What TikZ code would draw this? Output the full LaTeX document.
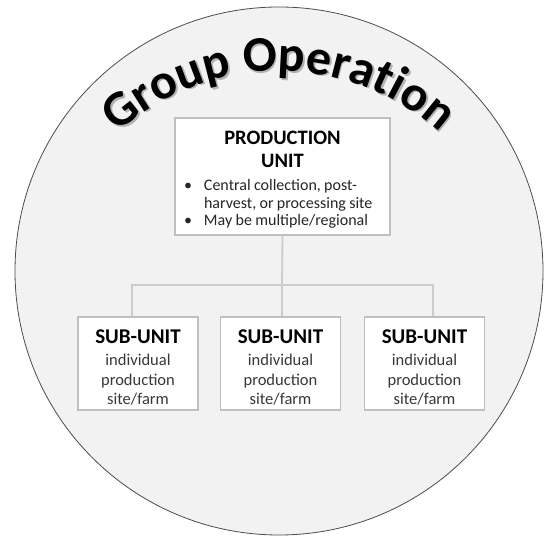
\documentclass[tikz,border=0pt]{standalone}
\usepackage{fontspec}
\setmainfont{Carlito}
\usetikzlibrary{positioning,decorations.text}

\newcommand{\prodtext}{%
	{\centering\fontsize{20.5}{23}\selectfont\bfseries\rule{0pt}{22pt}PRODUCTION\\UNIT\par}
	\vspace{10pt}
	{\fontsize{16}{17.5}\selectfont\color{black!85}%
	\begin{tabular}{@{}p{20pt}@{}l@{}}
		\textbullet & Central collection, post-\\
		& harvest, or processing site\\
		\textbullet & May be multiple/regional
	\end{tabular}\par}}
\newcommand{\subtext}{%
	{\fontsize{21}{23}\selectfont\bfseries\rule{0pt}{21.5pt}SUB-UNIT\par}
	\vspace{3pt}
	{\fontsize{16.5}{19.5}\selectfont\color{black!78}individual\\production\\site/farm\par}}

\begin{document}
\begin{tikzpicture}[x=1pt,y=1pt,
	unitbox/.style={draw=gray!50,fill=white,line width=1.1pt,inner sep=0pt},
	subbox/.style={unitbox,minimum width=120,minimum height=93,text width=118pt,
		execute at begin node=\centering},
	link/.style={draw=gray!40,line width=1.8pt}]
	\useasboundingbox (0,0) rectangle (558,544);

	%circle
	\draw[fill=gray!10,draw=black!70,line width=0.8pt] (279,273) circle[radius=264];

	%title along the arc
	\path[decorate,decoration={text along path,text align=center,
		text={|\fontsize{50}{50}\selectfont\bfseries\color{gray!60}|Group Operation}}]
		(280.5,231.5) ++(140:240) arc[start angle=140,end angle=40,radius=240]; %shadow
	\path[decorate,decoration={text along path,text align=center,
		text={|\fontsize{50}{50}\selectfont\bfseries|Group Operation}}]
		(279,233) ++(140:240) arc[start angle=140,end angle=40,radius=240];

	%units
	\node[unitbox,minimum width=215,minimum height=117,text width=197pt] (prod)
		at (282.5,367.5) {\prodtext};
	\node[subbox] (subA) at (138,180.5) {\subtext};
	\node[subbox] (subB) at (280.5,180.5) {\subtext};
	\node[subbox] (subC) at (424.5,180.5) {\subtext};

	%connectors
	\coordinate (bus) at (282,259);
	\draw[link] (prod.south) -- (bus);
	\draw[link] ([xshift=-6pt]subA.north) |- (bus) -| ([xshift=8.5pt]subC.north);
	\draw[link] (bus) -- ([xshift=1.5pt]subB.north);
\end{tikzpicture}
\end{document}
